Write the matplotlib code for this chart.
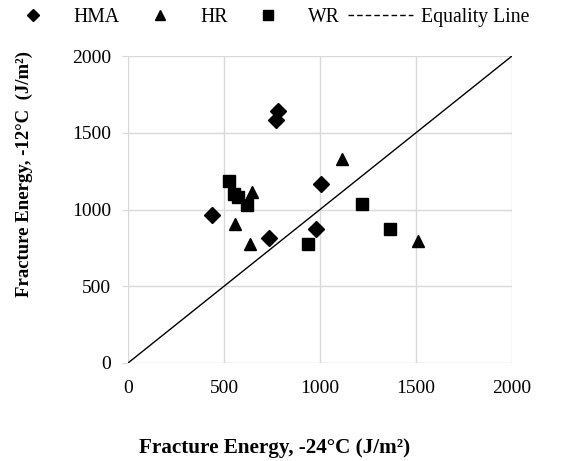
import numpy as np
import matplotlib.pyplot as plt
from matplotlib.lines import Line2D

plt.rcParams['font.family'] = ['Liberation Serif', 'DejaVu Serif']

# Fracture energy at -24C (x) and -12C (y), J/m2
hma_x = [436, 780, 771, 734, 1004, 979]
hma_y = [963, 1641, 1582, 815, 1169, 870]
hr_x = [646, 556, 635, 1115, 1509]
hr_y = [1111, 904, 778, 1330, 795]
wr_x = [528, 554, 571, 620, 939, 1220, 1365]
wr_y = [1187, 1100, 1082, 1028, 772, 1037, 870]
eq_line = [0, 2000]
ticks = [0, 500, 1000, 1500, 2000]

fig = plt.figure(figsize=(5.73, 4.61), dpi=100)
ax = fig.add_axes([0.2234, 0.2126, 0.6701, 0.6659])

ax.plot(eq_line, eq_line, color='black', lw=1.0, zorder=2)
ax.plot(hma_x, hma_y, 'D', color='black', ms=8, ls='none', zorder=3)
ax.plot(hr_x, hr_y, '^', color='black', ms=8, ls='none', zorder=3)
ax.plot(wr_x, wr_y, 's', color='black', ms=8, ls='none', zorder=3)

ax.set_xlim(0, 2000)
ax.set_ylim(0, 2000)
ax.set_xticks(ticks)
ax.set_yticks(ticks)
ax.grid(True, color='#d9d9d9', lw=1.0, zorder=0)
ax.set_axisbelow(True)
for s in ax.spines.values():
  s.set_visible(False)
ax.tick_params(axis='x', length=0, labelsize=14, pad=12)
ax.tick_params(axis='y', length=4, color='#d9d9d9', labelsize=14, pad=8)

fig.text(0.2426, 0.0174, 'Fracture Energy, -24°C (J/m²)',
         fontsize=15.2, fontweight='bold', ha='left', va='baseline')
fig.text(0.042, 0.6236, 'Fracture Energy, -12°C  (J/m²)',
         fontsize=13.5, fontweight='bold', ha='center', va='center',
         rotation=90)

handles = [
  Line2D([], [], marker='D', color='black', ms=6, ls='none'),
  Line2D([], [], marker='^', color='black', ms=7, ls='none'),
  Line2D([], [], marker='s', color='black', ms=7, ls='none'),
  Line2D([], [], color='black', lw=1.0, dashes=(4, 2.2)),
]
fig.legend(handles, ['HMA', 'HR', 'WR', 'Equality Line'], loc='center',
           bbox_to_anchor=(0.462, 0.962), ncol=4, frameon=False,
           fontsize=14.2, handlelength=3.3, handletextpad=0.4,
           columnspacing=0.4, borderpad=0.2)

fig.savefig('out.png', dpi=100)
